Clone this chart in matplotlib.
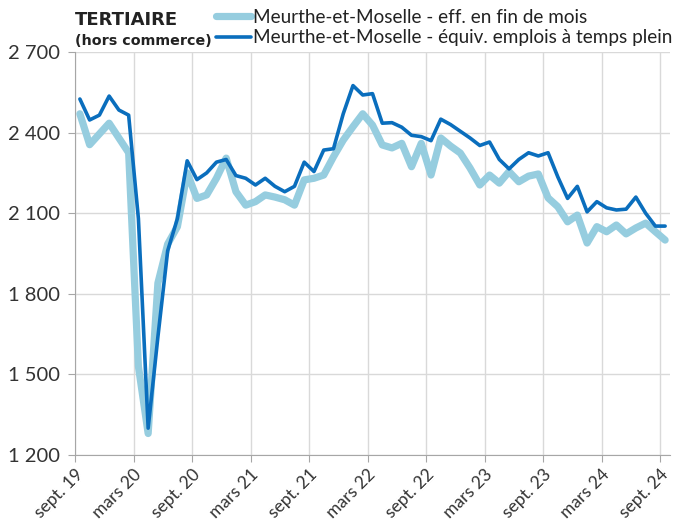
#! /usr/bin/env python3

import matplotlib
matplotlib.use("Agg")
import matplotlib.pyplot as plt
from matplotlib.ticker import FuncFormatter, FixedLocator
import numpy as np

plt.rcParams['font.family'] = ['Lato', 'DejaVu Sans']

# monthly values, sept. 2019 -> sept. 2024
eff_fin_mois = [
  2470, 2355, 2395, 2435, 2380, 2325, 1530, 1280, 1840, 1985,
  2050, 2250, 2155, 2168, 2230, 2305, 2180, 2130, 2143, 2168,
  2160, 2150, 2130, 2224, 2230, 2242, 2310, 2372, 2422, 2470,
  2428, 2354, 2343, 2360, 2273, 2360, 2242, 2380, 2350, 2324,
  2268, 2205, 2242, 2212, 2255, 2217, 2238, 2246, 2157, 2124,
  2068, 2093, 1989, 2050, 2031, 2056, 2023, 2045, 2063, 2031,
  2000,
]
equiv_etp = [
  2525, 2447, 2465, 2536, 2484, 2465, 2080, 1300, 1640, 1960,
  2080, 2295, 2225, 2250, 2290, 2300, 2240, 2230, 2205, 2230,
  2200, 2180, 2200, 2290, 2255, 2335, 2340, 2470, 2575, 2540,
  2545, 2435, 2437, 2420, 2390, 2385, 2370, 2450, 2430, 2405,
  2380, 2352, 2365, 2300, 2265, 2300, 2325, 2313, 2325, 2235,
  2155, 2200, 2105, 2143, 2120, 2112, 2115, 2160, 2100, 2052,
  2052,
]
tick_labels = ["sept. 19", "mars 20", "sept. 20", "mars 21", "sept. 21",
               "mars 22", "sept. 22", "mars 23", "sept. 23", "mars 24",
               "sept. 24"]
label1 = "Meurthe-et-Moselle - eff. en fin de mois"
label2 = "Meurthe-et-Moselle - équiv. emplois à temps plein"

x = np.arange(len(eff_fin_mois)) + 0.5

fig = plt.figure(figsize=(6.74, 5.24), dpi=100)
ax = fig.add_axes([75/674, 1 - 455/524, 595/674, 403/524])

ax.plot(x, eff_fin_mois, color="#96CDDF", lw=5.2, solid_joinstyle="round",
        solid_capstyle="round", label=label1)
ax.plot(x, equiv_etp, color="#0A6EBD", lw=2.6, solid_joinstyle="round",
        solid_capstyle="round", label=label2)

ax.set_xlim(0, 61)
ax.set_ylim(1200, 2700)
ax.yaxis.set_major_locator(FixedLocator(range(1200, 2701, 300)))
ax.yaxis.set_major_formatter(FuncFormatter(lambda v, p: "{:,}".format(int(v)).replace(",", " ")))
ax.set_xticks(np.arange(0, 61, 6))
ax.set_xticklabels(tick_labels, rotation=45, ha="right", rotation_mode="anchor")

ax.grid(True, color="#D9D9D9", lw=1)
ax.set_axisbelow(True)
for s in ["top", "right"]:
  ax.spines[s].set_visible(False)
for s in ["left", "bottom"]:
  ax.spines[s].set_color("#A6A6A6")
ax.tick_params(axis="both", colors="#A6A6A6", labelcolor="#333333", length=5)
ax.tick_params(axis="y", pad=6, labelsize=14.5)
ax.tick_params(axis="x", pad=3, labelsize=12.5)

fig.text(75/674, 1 - 25/524, "TERTIAIRE", fontsize=13, fontweight="bold",
         family="DejaVu Sans", color="#222222")
fig.text(75/674, 1 - 45/524, "(hors commerce)", fontsize=10.3, fontweight="bold",
         family="DejaVu Sans", color="#222222")

leg = fig.legend(loc="upper left", bbox_to_anchor=(208/674, 1 - 1/524),
                 frameon=False, fontsize=13.6, handlelength=1.9,
                 handletextpad=0.1, labelspacing=0.2, borderaxespad=0)
for t in leg.get_texts():
  t.set_color("#222222")

plt.savefig("out.png")
